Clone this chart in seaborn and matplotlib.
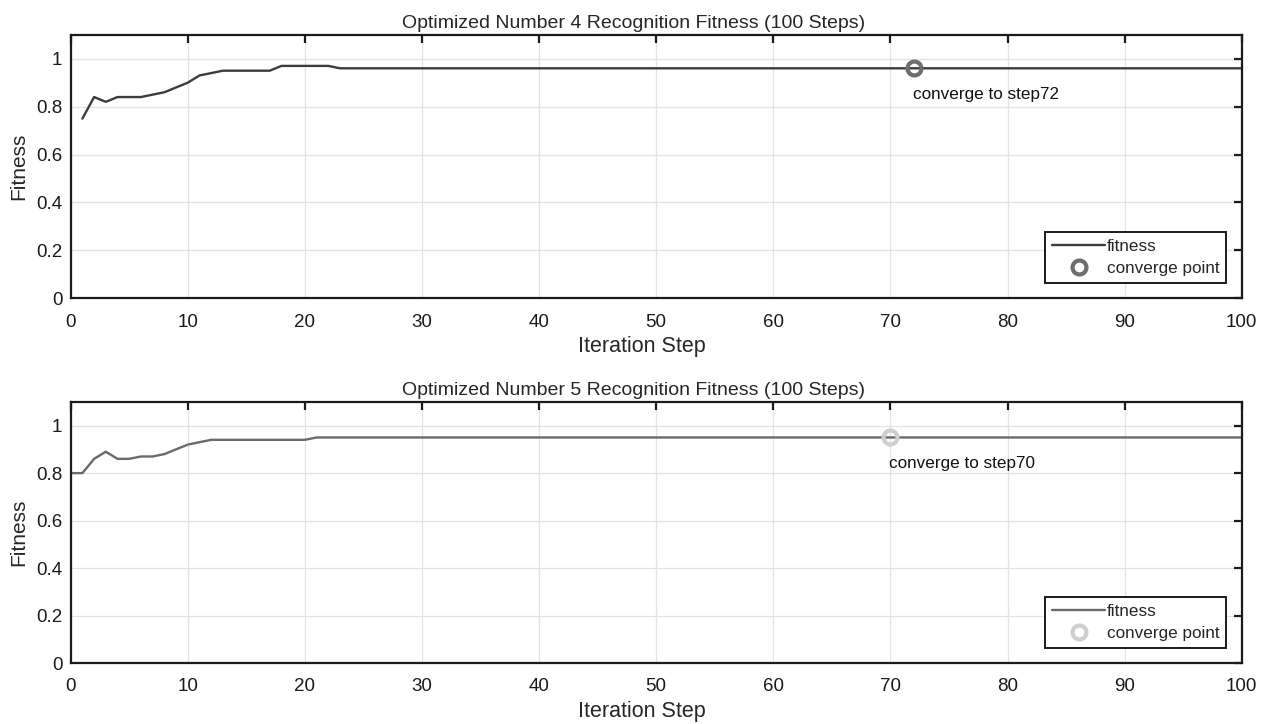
import matplotlib
matplotlib.use("Agg")
import matplotlib.pyplot as plt
import seaborn as sns
import pandas as pd

# Number 4 run (points where the curve changes, flat afterwards)
steps_4 = [1, 2, 3, 4, 5, 6, 7, 8, 9, 10, 11, 12, 13, 17, 18, 22, 23, 100]
fit_4 = [0.75, 0.84, 0.82, 0.84, 0.84, 0.84, 0.85, 0.86, 0.88, 0.90, 0.93, 0.94, 0.95, 0.95, 0.97, 0.97, 0.96, 0.96]
conv_step_4 = 72
conv_fit_4 = 0.96

# Number 5 run
steps_5 = [0, 1, 2, 3, 4, 5, 6, 7, 8, 9, 10, 11, 12, 20, 21, 100]
fit_5 = [0.80, 0.80, 0.86, 0.89, 0.86, 0.86, 0.87, 0.87, 0.88, 0.90, 0.92, 0.93, 0.94, 0.94, 0.95, 0.95]
conv_step_5 = 70
conv_fit_5 = 0.95

sns.set_style("whitegrid")
plt.rcParams["font.family"] = ["Liberation Sans", "DejaVu Sans"]

fig = plt.figure(figsize=(12.69, 7.24), dpi=100)
ax1 = fig.add_axes([0.0557, 0.588, 0.9228, 0.364])
ax2 = fig.add_axes([0.0557, 0.084, 0.9228, 0.361])

panels = [
    (ax1, steps_4, fit_4, conv_step_4, conv_fit_4, "#3c3c3c", "#6e6e6e", "4"),
    (ax2, steps_5, fit_5, conv_step_5, conv_fit_5, "#6a6a6a", "#cfcfcf", "5"),
]

for ax, xs, ys, cs, cf, lc, mc, num in panels:
    df = pd.DataFrame({"step": xs, "fitness": ys})
    sns.lineplot(data=df, x="step", y="fitness", color=lc, linewidth=1.7,
                 label="fitness", ax=ax)
    ax.plot([cs], [cf], linestyle="none", marker="o", markersize=10,
            markerfacecolor="none", markeredgecolor=mc, markeredgewidth=3,
            label="converge point")
    ax.text(cs - 0.1, cf - 0.11, f"converge to step{cs}", fontsize=12.3,
            va="center", ha="left", color="#111111")

    ax.set_xlim(0, 100)
    ax.set_ylim(0, 1.1)
    ax.set_xticks(range(0, 101, 10))
    ax.set_yticks([0, 0.2, 0.4, 0.6, 0.8, 1])
    ax.set_yticklabels(["0", "0.2", "0.4", "0.6", "0.8", "1"])
    ax.grid(True, color="#e3e3e3", linewidth=0.9)
    for s in ax.spines.values():
        s.set_color("#1a1a1a")
        s.set_linewidth(1.6)
    ax.tick_params(direction="in", length=6, width=1.6, top=True, right=True,
                   labelsize=13.5, colors="#1a1a1a")
    ax.tick_params(axis="x", pad=11)
    ax.tick_params(axis="y", pad=6)
    ax.set_xlabel("Iteration Step", fontsize=15.5)
    ax.xaxis.set_label_coords(0.488, -0.143)
    ax.set_ylabel("Fitness", fontsize=15, labelpad=6)
    ax.set_title(f"Optimized Number {num} Recognition Fitness (100 Steps)",
                 fontsize=14, pad=5, x=0.481)
    leg = ax.legend(loc="lower right", fontsize=12.3, frameon=True,
                    fancybox=False, edgecolor="#1a1a1a", handlelength=3.1,
                    handletextpad=0.1, borderpad=0.4, labelspacing=0.4,
                    borderaxespad=0.9)
    leg.get_frame().set_linewidth(1.4)
    leg.get_frame().set_alpha(1)

fig.savefig("out.png", dpi=100)
